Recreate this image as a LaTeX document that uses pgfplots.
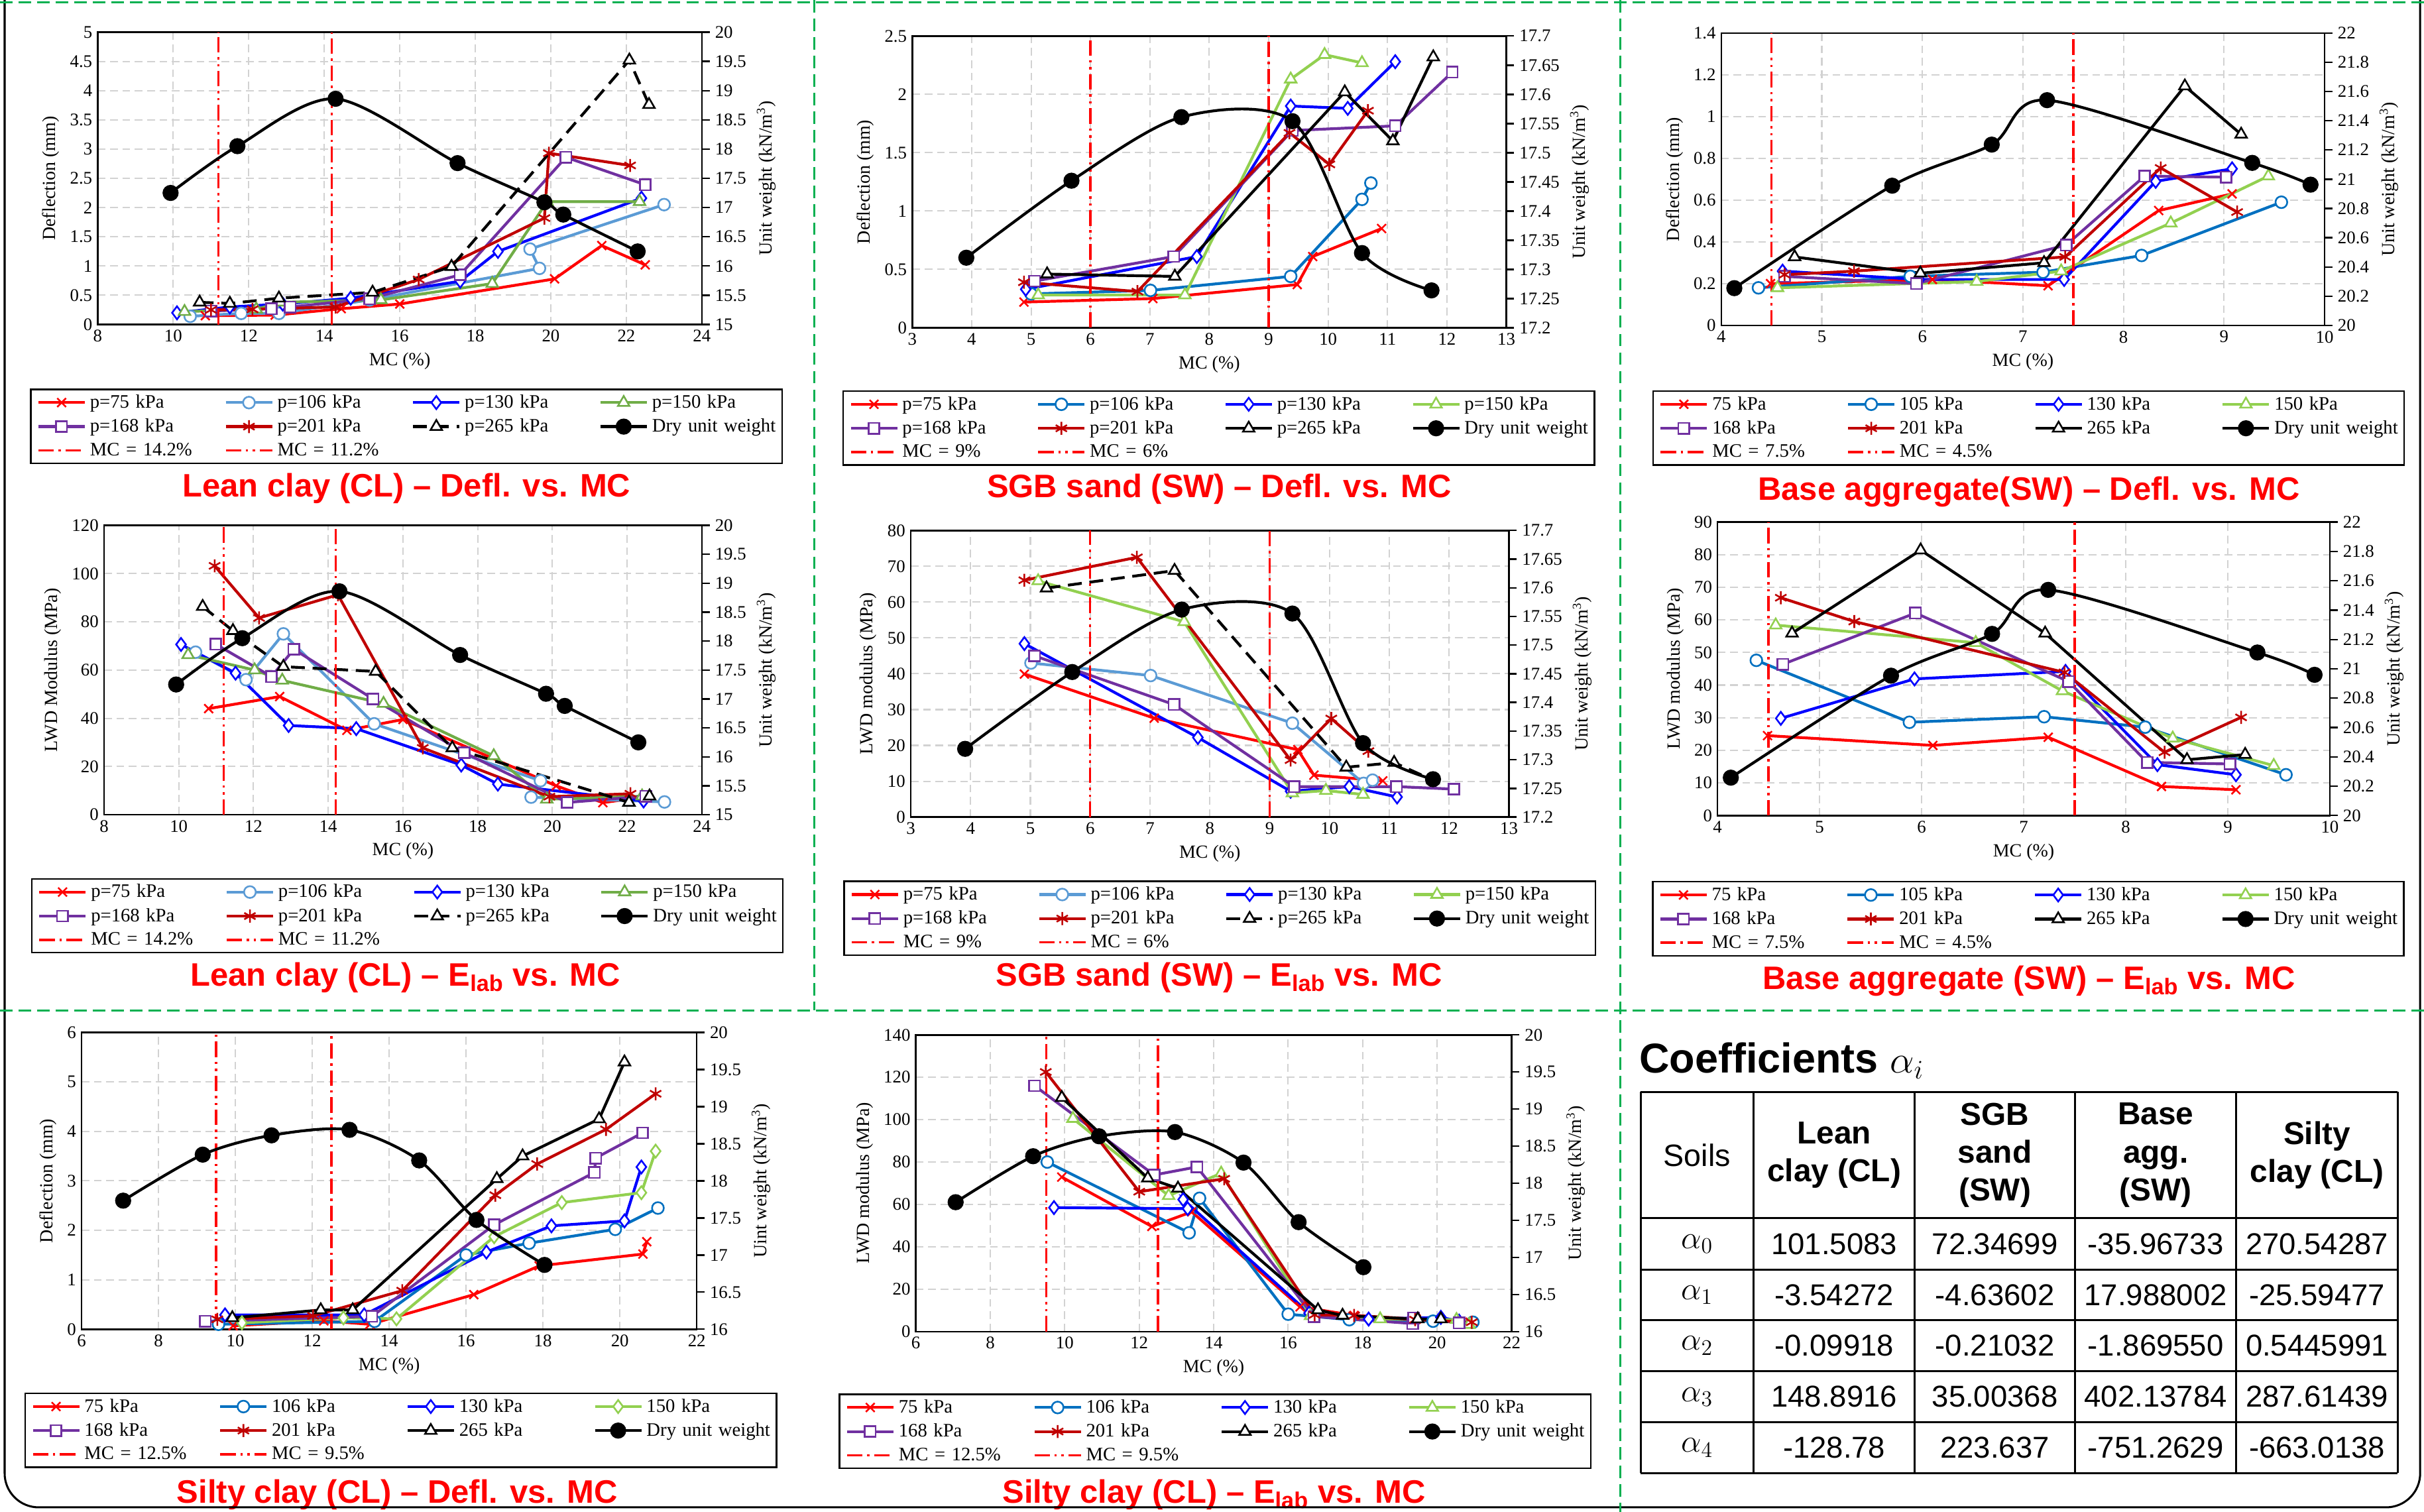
\documentclass[border=0pt]{standalone}
\usepackage{fontspec}
\setmainfont{Liberation Serif}
\newfontfamily\arial{Liberation Sans}
\usepackage{pgfplots}
\pgfplotsset{compat=1.18}
\definecolor{cRed}{RGB}{255,0,0}
\definecolor{cLB}{RGB}{91,155,213}
\definecolor{cMB}{RGB}{0,112,192}
\definecolor{cBlue}{RGB}{0,0,255}
\definecolor{cGreen}{RGB}{112,173,71}
\definecolor{cLG}{RGB}{146,208,80}
\definecolor{cPur}{RGB}{112,48,160}
\definecolor{cDR}{RGB}{192,0,0}
\definecolor{cGrn}{RGB}{0,176,80}
\definecolor{cGrid}{RGB}{210,210,210}
\tikzset{
 mo/.style={mark options={solid, fill=white, line width=1.1pt}},
 s75/.style={color=cRed, line width=1.8pt, mark=x, mark size=4pt, mark options={solid, line width=1.1pt}},
 s106/.style={color=#1, line width=1.8pt, mark=*, mark size=3.8pt, mo},
 s130/.style={color=cBlue, line width=1.8pt, mark=diamond*, mark size=4.2pt, mo},
 s150/.style={color=#1, line width=1.8pt, mark=triangle*, mark size=4.3pt, mo},
 s150d/.style={color=#1, line width=1.8pt, mark=diamond*, mark size=4.2pt, mo},
 s168/.style={color=cPur, line width=1.8pt, mark=square*, mark size=3.5pt, mo},
 s201/.style={color=cDR, line width=1.8pt, mark=asterisk, mark size=4.2pt, mark options={solid, line width=1.1pt}},
 s265/.style={color=black, line width=1.8pt, mark=triangle*, mark size=4.3pt, mo, #1},
 dsh/.style={dash pattern=on 9pt off 5pt},
 dry/.style={color=black, line width=1.8pt, smooth, mark=*, mark size=4.3pt, mark options={solid, fill=black}},
 mcA/.style={color=cRed, line width=1.5pt, dash pattern=on 10pt off 3pt on 1.5pt off 3pt},
 mcB/.style={color=cRed, line width=1.5pt, dash pattern=on 10pt off 3pt on 1.5pt off 3pt on 1.5pt off 3pt},
}
\pgfplotsset{
 legend image code/.code={\draw[mark repeat=2, mark phase=2, #1] plot coordinates {(0pt,0pt) (15pt,0pt) (30pt,0pt)};},
 common/.style={scale only axis, anchor=south west,
   axis line style={black, line width=1.1pt},
   tick label style={font=\fontsize{11.5}{13}\selectfont},
   label style={font=\fontsize{12}{14}\selectfont},
   /pgf/number format/assume math mode=true},
 Lax/.style={common,
   major tick length=0pt,
   xmajorgrids, ymajorgrids,
   major grid style={dash pattern=on 5pt off 3pt, draw=cGrid, line width=0.9pt},
   xlabel={MC (\%)},
   legend columns=4, legend cell align=left,
   legend style={anchor=north, draw=black, line width=1pt, fill=white,
      font=\fontsize{12.3}{14}\selectfont, inner xsep=4pt, inner ysep=3.5pt,
      nodes={inner sep=0pt},
      /tikz/every even column/.append style={column sep=6.9pt, text width=80pt},
      /tikz/every odd column/.append style={column sep=2.5pt},
      row sep=5.5pt}},
 Rax/.style={common,
   axis x line=none, axis y line*=right,
   tick align=outside, major tick length=5pt,
   ytick style={line width=1pt, black},
   ylabel={Unit weight (kN/m\textsuperscript{3})}},
}
\newcommand\ttl[3]{\node[font=\arial\bfseries\fontsize{21}{24}\selectfont, text=cRed] at (#1pt,#2pt) {#3};}
\begin{document}
\begin{tikzpicture}
\path[use as bounding box] (0,0) rectangle (1568pt,978pt);
% ================= P1 Lean clay Defl
\begin{axis}[Lax, at={(63.2pt,768.1pt)}, width=390.8pt, height=189.1pt,
  xmin=8, xmax=24, xtick={8,10,...,24}, ymin=0, ymax=5, ytick={0,0.5,...,5},
  ylabel={Deflection (mm)}, legend style={at={(0.511,-0.2195)}}]
\addplot[s75] coordinates {(10.85,0.15) (12.7,0.16) (14.45,0.27) (16.0,0.35) (20.1,0.78) (21.35,1.35) (22.5,1.02)}; \addlegendentry{p=75 kPa}
\addplot[s106=cLB] coordinates {(10.45,0.14) (11.8,0.19) (12.8,0.19) (15.2,0.42) (19.7,0.96) (19.45,1.29) (23.0,2.05)}; \addlegendentry{p=106 kPa}
\addplot[s130] coordinates {(10.1,0.2) (11.5,0.3) (12.9,0.35) (14.7,0.45) (17.6,0.74) (18.6,1.25) (22.4,2.16)}; \addlegendentry{p=130 kPa}
\addplot[s150=cGreen] coordinates {(10.3,0.22) (12.2,0.26) (12.85,0.38) (15.5,0.42) (18.45,0.7) (19.9,2.1) (22.35,2.1)}; \addlegendentry{p=150 kPa}
\addplot[s168] coordinates {(11.0,0.23) (12.6,0.27) (13.1,0.3) (15.2,0.44) (17.6,0.85) (20.4,2.86) (22.5,2.39)}; \addlegendentry{p=168 kPa}
\addplot[s201] coordinates {(11.0,0.25) (12.1,0.26) (14.3,0.3) (16.5,0.77) (19.83,1.82) (19.95,2.93) (22.1,2.72)}; \addlegendentry{p=201 kPa}
\addplot[s265=dsh] coordinates {(10.7,0.38) (11.5,0.36) (12.8,0.45) (15.28,0.55) (17.37,0.99) (22.08,4.52) (22.6,3.76)}; \addlegendentry{p=265 kPa}
\addlegendimage{dry}\addlegendentry{Dry unit weight}
\addplot[mcA] coordinates {(14.2,0) (14.2,5)}; \addlegendentry{MC = 14.2\%}
\addplot[mcB] coordinates {(11.2,0) (11.2,5)}; \addlegendentry{MC = 11.2\%}
\end{axis}
\begin{axis}[Rax, at={(63.2pt,768.1pt)}, width=390.8pt, height=189.1pt,
  xmin=8, xmax=24, ymin=15, ymax=20, ytick={15,15.5,...,20}]
\addplot[dry] coordinates {(9.93,17.25) (11.7,18.05) (14.3,18.86) (17.53,17.76) (19.83,17.09) (20.33,16.88) (22.3,16.25)};
\end{axis}
\ttl{263}{662.1}{Lean clay (CL) \textendash{} Defl. vs. MC}
% ================= P2 SGB Defl
\begin{axis}[Lax, at={(590.1pt,766pt)}, width=384.3pt, height=188.7pt,
  xmin=3, xmax=13, xtick={3,4,...,13}, ymin=0, ymax=2.5, ytick={0,0.5,...,2.5},
  ylabel={Deflection (mm)}, legend style={at={(0.516,-0.2146)}}]
\addplot[s75] coordinates {(4.88,0.22) (7.05,0.25) (9.48,0.37) (9.74,0.61) (10.9,0.85)}; \addlegendentry{p=75 kPa}
\addplot[s106=cMB] coordinates {(5.0,0.29) (7.01,0.32) (9.37,0.44) (10.57,1.1) (10.72,1.24)}; \addlegendentry{p=106 kPa}
\addplot[s130] coordinates {(4.91,0.33) (7.79,0.61) (9.37,1.9) (10.33,1.88) (11.13,2.28)}; \addlegendentry{p=130 kPa}
\addplot[s150=cLG] coordinates {(5.12,0.28) (7.59,0.28) (9.37,2.13) (9.94,2.34) (10.57,2.27)}; \addlegendentry{p=150 kPa}
\addplot[s168] coordinates {(5.06,0.4) (7.4,0.61) (9.4,1.69) (11.13,1.73) (12.09,2.19)}; \addlegendentry{p=168 kPa}
\addplot[s201] coordinates {(4.88,0.39) (6.79,0.31) (9.35,1.67) (10.02,1.4) (10.67,1.86)}; \addlegendentry{p=201 kPa}
\addplot[s265=solid] coordinates {(5.27,0.46) (7.42,0.44) (10.28,2.02) (11.09,1.6) (11.77,2.32)}; \addlegendentry{p=265 kPa}
\addlegendimage{dry}\addlegendentry{Dry unit weight}
\addplot[mcA] coordinates {(9,0) (9,2.5)}; \addlegendentry{MC = 9\%}
\addplot[mcB] coordinates {(6,0) (6,2.5)}; \addlegendentry{MC = 6\%}
\end{axis}
\begin{axis}[Rax, at={(590.1pt,766pt)}, width=384.3pt, height=188.7pt,
  xmin=3, xmax=13, ymin=17.2, ymax=17.7, ytick={17.2,17.25,17.3,17.35,17.4,17.45,17.5,17.55,17.6,17.65,17.7}]
\addplot[dry] coordinates {(3.91,17.32) (5.68,17.452) (7.53,17.561) (9.4,17.554) (10.57,17.328) (11.74,17.264)};
\end{axis}
\ttl{788.6}{661.7}{SGB sand (SW) \textendash{} Defl. vs. MC}
% ================= P3 Base Defl
\begin{axis}[Lax, at={(1113.4pt,767.5pt)}, width=390.3pt, height=189.1pt,
  xmin=4, xmax=10, xtick={4,5,...,10}, ymin=0, ymax=1.4, ytick={0,0.2,0.4,0.6,0.8,1,1.2,1.4},
  ylabel={Deflection (mm)}, legend style={at={(0.5095,-0.222)}}]
\addplot[s75] coordinates {(4.49,0.2) (6.1,0.22) (7.25,0.19) (8.35,0.55) (9.08,0.63)}; \addlegendentry{75 kPa}
\addplot[s106=cMB] coordinates {(4.37,0.18) (5.88,0.235) (7.2,0.255) (8.18,0.335) (9.57,0.59)}; \addlegendentry{105 kPa}
\addplot[s130] coordinates {(4.61,0.26) (5.97,0.22) (7.41,0.22) (8.32,0.69) (9.08,0.75)}; \addlegendentry{130 kPa}
\addplot[s150=cLG] coordinates {(4.56,0.18) (6.54,0.21) (7.38,0.26) (8.47,0.49) (9.44,0.715)}; \addlegendentry{150 kPa}
\addplot[s168] coordinates {(4.63,0.235) (5.94,0.2) (7.43,0.385) (8.21,0.715) (9.02,0.71)}; \addlegendentry{168 kPa}
\addplot[s201] coordinates {(4.63,0.243) (5.32,0.26) (7.42,0.328) (8.37,0.754) (9.13,0.543)}; \addlegendentry{201 kPa}
\addplot[s265=solid] coordinates {(4.73,0.328) (5.98,0.25) (7.21,0.3) (8.61,1.146) (9.17,0.915)}; \addlegendentry{265 kPa}
\addlegendimage{dry}\addlegendentry{Dry unit weight}
\addplot[mcA] coordinates {(7.5,0) (7.5,1.4)}; \addlegendentry{MC = 7.5\%}
\addplot[mcB] coordinates {(4.5,0) (4.5,1.4)}; \addlegendentry{MC = 4.5\%}
\end{axis}
\begin{axis}[Rax, at={(1113.4pt,767.5pt)}, width=390.3pt, height=189.1pt,
  xmin=4, xmax=10, ymin=20, ymax=22, ytick={20,20.2,20.4,20.6,20.8,21,21.2,21.4,21.6,21.8,22}]
\addplot[dry] coordinates {(4.13,20.255) (5.7,20.956) (6.69,21.237) (7.24,21.541) (9.28,21.112) (9.86,20.963)};
\end{axis}
\ttl{1312.4}{660}{Base aggregate(SW) \textendash{} Defl. vs. MC}
% ================= P4 Lean clay E
\begin{axis}[Lax, at={(67.3pt,451pt)}, width=386.7pt, height=187.2pt,
  xmin=8, xmax=24, xtick={8,10,...,24}, ymin=0, ymax=120, ytick={0,20,...,120},
  ylabel={LWD Modulus (MPa)}, legend style={at={(0.5074,-0.219)}}]
\addplot[s75] coordinates {(10.8,44) (12.7,49) (14.5,35) (16.0,39.5) (20.1,12) (21.35,5) (22.5,7.5)}; \addlegendentry{p=75 kPa}
\addplot[s106=cLB] coordinates {(10.45,67.4) (11.8,56) (12.8,75) (15.23,37.7) (19.68,14.1) (19.43,7.3) (23.0,5.3)}; \addlegendentry{p=106 kPa}
\addplot[s130] coordinates {(10.06,70.6) (11.52,58.7) (12.94,37) (14.75,35.7) (17.56,20.6) (18.54,12.7) (22.44,5.7)}; \addlegendentry{p=130 kPa}
\addplot[s150=cGreen] coordinates {(10.25,66.3) (12.03,60) (12.77,55.7) (15.48,46.1) (18.43,24.4) (19.85,6.4) (22.4,7.7)}; \addlegendentry{p=150 kPa}
\addplot[s168] coordinates {(10.99,70.7) (12.48,57.3) (13.08,68.6) (15.2,48) (17.64,25.7) (20.4,5.1) (22.5,7.7)}; \addlegendentry{p=168 kPa}
\addplot[s201] coordinates {(10.96,103.2) (12.15,81.6) (14.26,91.2) (16.53,27.7) (19.92,7.5) (22.09,8.7)}; \addlegendentry{p=201 kPa}
\addplot[s265=dsh] coordinates {(10.64,86.3) (11.45,76.3) (12.8,61.4) (15.27,59.4) (17.32,27.7) (22.05,5.1) (22.6,7.7)}; \addlegendentry{p=265 kPa}
\addlegendimage{dry}\addlegendentry{Dry unit weight}
\addplot[mcA] coordinates {(14.2,0) (14.2,120)}; \addlegendentry{MC = 14.2\%}
\addplot[mcB] coordinates {(11.2,0) (11.2,120)}; \addlegendentry{MC = 11.2\%}
\end{axis}
\begin{axis}[Rax, at={(67.3pt,451pt)}, width=386.7pt, height=187.2pt,
  xmin=8, xmax=24, ymin=15, ymax=20, ytick={15,15.5,...,20}]
\addplot[dry] coordinates {(9.93,17.25) (11.7,18.05) (14.3,18.86) (17.53,17.76) (19.83,17.09) (20.33,16.88) (22.3,16.25)};
\end{axis}
\ttl{262.3}{345.6}{Lean clay (CL) \textendash{} E\textsubscript{lab} vs. MC}
% ================= P5 SGB E
\begin{axis}[Lax, at={(589.1pt,449.5pt)}, width=387pt, height=185.4pt,
  xmin=3, xmax=13, xtick={3,4,...,13}, ymin=0, ymax=80, ytick={0,10,...,80},
  ylabel={LWD modulus (MPa)}, legend style={at={(0.5165,-0.2217)}}]
\addplot[s75] coordinates {(4.9,39.9) (7.07,27.6) (9.47,18.8) (9.74,11.7) (10.89,10.1)}; \addlegendentry{p=75 kPa}
\addplot[s106=cLB] coordinates {(5.01,43) (7.01,39.5) (9.38,26.2) (10.57,9.4) (10.72,10.3)}; \addlegendentry{p=106 kPa}
\addplot[s130] coordinates {(4.9,48.4) (7.8,22.2) (9.35,7.2) (10.33,8.5) (11.13,5.6)}; \addlegendentry{p=130 kPa}
\addplot[s150=cLG] coordinates {(5.13,65.9) (7.57,54.5) (9.38,6.7) (9.94,7.4) (10.56,6.3)}; \addlegendentry{p=150 kPa}
\addplot[s168] coordinates {(5.07,45) (7.4,31.4) (9.41,8.5) (11.12,8.5) (12.08,7.8)}; \addlegendentry{p=168 kPa}
\addplot[s201] coordinates {(4.9,66.1) (6.78,72.5) (9.35,15.9) (10.03,27.5) (10.65,18.4)}; \addlegendentry{p=201 kPa}
\addplot[s265=dsh] coordinates {(5.27,63.9) (7.41,68.8) (10.28,13.9) (11.08,15.2) (11.73,10.3)}; \addlegendentry{p=265 kPa}
\addlegendimage{dry}\addlegendentry{Dry unit weight}
\addplot[mcA] coordinates {(9,0) (9,80)}; \addlegendentry{MC = 9\%}
\addplot[mcB] coordinates {(6,0) (6,80)}; \addlegendentry{MC = 6\%}
\end{axis}
\begin{axis}[Rax, at={(589.1pt,449.5pt)}, width=387pt, height=185.4pt,
  xmin=3, xmax=13, ymin=17.2, ymax=17.7, ytick={17.2,17.25,17.3,17.35,17.4,17.45,17.5,17.55,17.6,17.65,17.7}]
\addplot[dry] coordinates {(3.91,17.319) (5.7,17.453) (7.53,17.562) (9.38,17.555) (10.56,17.329) (11.73,17.266)};
\end{axis}
\ttl{788.6}{345.6}{SGB sand (SW) \textendash{} E\textsubscript{lab} vs. MC}
% ================= P6 Base E
\begin{axis}[Lax, at={(1111pt,450.5pt)}, width=396.1pt, height=189.8pt,
  xmin=4, xmax=10, xtick={4,5,...,10}, ymin=0, ymax=90, ytick={0,10,...,90},
  ylabel={LWD modulus (MPa)}, legend style={at={(0.5075,-0.2234)}}]
\addplot[s75] coordinates {(4.49,24.5) (6.11,21.5) (7.24,24) (8.35,8.9) (9.08,7.9)}; \addlegendentry{75 kPa}
\addplot[s106=cMB] coordinates {(4.38,47.6) (5.88,28.6) (7.2,30.3) (8.19,27.1) (9.57,12.5)}; \addlegendentry{105 kPa}
\addplot[s130] coordinates {(4.62,29.8) (5.93,41.9) (7.41,44.2) (8.31,15.6) (9.08,12.5)}; \addlegendentry{130 kPa}
\addplot[s150=cLG] coordinates {(4.57,58.4) (6.53,53) (7.38,38.2) (8.46,23.7) (9.45,15.3)}; \addlegendentry{150 kPa}
\addplot[s168] coordinates {(4.64,46.4) (5.94,62.1) (7.44,41.1) (8.21,16.3) (9.02,15.8)}; \addlegendentry{168 kPa}
\addplot[s201] coordinates {(4.62,66.8) (5.34,59.5) (7.4,43.9) (8.38,19.4) (9.13,30.1)}; \addlegendentry{201 kPa}
\addplot[s265=solid] coordinates {(4.73,55.9) (5.99,81.4) (7.21,55.9) (8.6,17.1) (9.17,18.7)}; \addlegendentry{265 kPa}
\addlegendimage{dry}\addlegendentry{Dry unit weight}
\addplot[mcA] coordinates {(7.5,0) (7.5,90)}; \addlegendentry{MC = 7.5\%}
\addplot[mcB] coordinates {(4.5,0) (4.5,90)}; \addlegendentry{MC = 4.5\%}
\end{axis}
\begin{axis}[Rax, at={(1111pt,450.5pt)}, width=396.1pt, height=189.8pt,
  xmin=4, xmax=10, ymin=20, ymax=22, ytick={20,20.2,20.4,20.6,20.8,21,21.2,21.4,21.6,21.8,22}]
\addplot[dry] coordinates {(4.13,20.258) (5.7,20.953) (6.69,21.238) (7.24,21.538) (9.29,21.111) (9.85,20.959)};
\end{axis}
\ttl{1312.4}{343.5}{Base aggregate (SW) \textendash{} E\textsubscript{lab} vs. MC}
% ================= P7 Silty Defl
\begin{axis}[Lax, at={(52.8pt,118.2pt)}, width=397.9pt, height=192pt,
  xmin=6, xmax=22, xtick={6,8,...,22}, ymin=0, ymax=6, ytick={0,1,...,6},
  ylabel={Deflection (mm)}, legend style={at={(0.519,-0.2135)}}]
\addplot[s75] coordinates {(9.94,0.07) (12.3,0.17) (13.5,0.1) (16.2,0.7) (17.9,1.28) (20.6,1.52) (20.7,1.77)}; \addlegendentry{75 kPa}
\addplot[s106=cMB] coordinates {(9.56,0.1) (13.62,0.16) (16.0,1.5) (17.64,1.74) (19.88,2.02) (20.99,2.45)}; \addlegendentry{106 kPa}
\addplot[s130] coordinates {(9.73,0.29) (13.35,0.29) (16.53,1.56) (18.22,2.09) (20.12,2.19) (20.56,3.28)}; \addlegendentry{130 kPa}
\addplot[s150d=cLG] coordinates {(10.17,0.13) (12.81,0.23) (14.19,0.21) (16.73,1.87) (18.49,2.56) (20.56,2.76) (20.93,3.6)}; \addlegendentry{150 kPa}
\addplot[s168] coordinates {(9.22,0.16) (13.55,0.26) (16.73,2.11) (19.34,3.17) (19.37,3.46) (20.59,3.97)}; \addlegendentry{168 kPa}
\addplot[s201] coordinates {(9.53,0.2) (12.02,0.27) (14.34,0.78) (16.76,2.71) (17.85,3.34) (19.64,4.04) (20.93,4.76)}; \addlegendentry{201 kPa}
\addplot[s265=solid] coordinates {(9.92,0.23) (12.22,0.39) (13.05,0.39) (16.8,3.04) (17.47,3.5) (19.46,4.25) (20.12,5.4)}; \addlegendentry{265 kPa}
\addlegendimage{dry}\addlegendentry{Dry unit weight}
\addplot[mcA] coordinates {(12.5,0) (12.5,6)}; \addlegendentry{MC = 12.5\%}
\addplot[mcB] coordinates {(9.5,0) (9.5,6)}; \addlegendentry{MC = 9.5\%}
\end{axis}
\begin{axis}[Rax, at={(52.8pt,118.2pt)}, width=397.9pt, height=192pt,
  xmin=6, xmax=22, ymin=16, ymax=20, ytick={16,16.5,...,20}, ylabel={Uint weight (kN/m\textsuperscript{3})}]
\addplot[dry] coordinates {(7.08,17.733) (9.15,18.353) (10.94,18.613) (12.97,18.687) (14.78,18.275) (16.27,17.473) (18.04,16.867)};
\end{axis}
\ttl{257}{11.1}{Silty clay (CL) \textendash{} Defl. vs. MC}
% ================= P8 Silty E
\begin{axis}[Lax, at={(592.4pt,116.7pt)}, width=385.4pt, height=191.9pt,
  xmin=6, xmax=22, xtick={6,8,...,22}, ymin=0, ymax=140, ytick={0,20,...,140},
  ylabel={LWD modulus (MPa)}, legend style={at={(0.5023,-0.209)}}]
\addplot[s75] coordinates {(9.92,72.9) (12.34,49.6) (13.41,56.5) (16.32,11.7) (17.77,7.6) (19.44,5.9) (20.89,4.4)}; \addlegendentry{75 kPa}
\addplot[s106=cMB] coordinates {(9.53,80) (13.34,46.6) (13.62,62.9) (16.0,8.2) (17.64,5.6) (19.89,4.9) (20.96,4.4)}; \addlegendentry{106 kPa}
\addplot[s130] coordinates {(9.71,58.5) (13.3,58) (13.18,62.3) (16.56,8.7) (18.16,5.9) (20.1,6.7) (20.59,4.9)}; \addlegendentry{130 kPa}
\addplot[s150=cLG] coordinates {(10.22,100.5) (12.79,64.1) (14.2,74.7) (16.6,7.4) (18.47,5.9) (20.52,5.6) (20.86,3.3)}; \addlegendentry{150 kPa}
\addplot[s168] coordinates {(9.19,116) (12.4,73.9) (13.55,77.7) (16.69,7.1) (19.34,3.8) (19.37,6.4) (20.59,4.1)}; \addlegendentry{168 kPa}
\addplot[s201] coordinates {(9.49,122.5) (12.0,66) (14.28,72.1) (16.71,7.9) (17.77,7.6) (19.41,5.6) (20.93,4.4)}; \addlegendentry{201 kPa}
\addplot[s265=solid] coordinates {(9.92,110.4) (12.23,72.4) (13.04,67.6) (16.8,10.2) (17.46,7.6) (19.48,5.9) (20.1,5.9)}; \addlegendentry{265 kPa}
\addlegendimage{dry}\addlegendentry{Dry unit weight}
\addplot[mcA] coordinates {(12.5,0) (12.5,140)}; \addlegendentry{MC = 12.5\%}
\addplot[mcB] coordinates {(9.5,0) (9.5,140)}; \addlegendentry{MC = 9.5\%}
\end{axis}
\begin{axis}[Rax, at={(592.4pt,116.7pt)}, width=385.4pt, height=191.9pt,
  xmin=6, xmax=22, ymin=16, ymax=20, ytick={16,16.5,...,20}]
\addplot[dry] coordinates {(7.07,17.744) (9.15,18.364) (10.92,18.633) (12.96,18.69) (14.8,18.278) (16.28,17.475) (18.02,16.868)};
\end{axis}
\ttl{785.3}{11.1}{Silty clay (CL) \textendash{} E\textsubscript{lab} vs. MC}
% ================= Table
\node[anchor=west, font=\arial\bfseries\fontsize{27}{30}\selectfont] at (1057pt,292pt) {Coefficients $\alpha_i$};
\begin{scope}[line width=1.3pt, black]
\foreach \y in {271.7,190,156.7,124,91.1,57.9,25.1} \draw (1061.2pt,\y pt) -- (1551pt,\y pt);
\foreach \x in {1061.2,1134.4,1238.5,1342.3,1446.5,1551} \draw (\x pt,25.1pt) -- (\x pt,271.7pt);
\end{scope}
\begin{scope}[every node/.style={align=center, font=\arial\fontsize{19.5}{24.5}\selectfont}]
\node at (1097.8pt,230.85pt) {\fontsize{20}{24}\selectfont Soils};
\node[font=\arial\bfseries\fontsize{20.5}{24.5}\selectfont] at (1186.45pt,230.85pt) {Lean\\clay (CL)};
\node[font=\arial\bfseries\fontsize{20.5}{24.5}\selectfont] at (1290.4pt,230.85pt) {SGB\\sand\\(SW)};
\node[font=\arial\bfseries\fontsize{20.5}{24.5}\selectfont] at (1394.4pt,230.85pt) {Base\\agg.\\(SW)};
\node[font=\arial\bfseries\fontsize{20.5}{24.5}\selectfont] at (1498.75pt,230.85pt) {Silty\\clay (CL)};
\node[font=\fontsize{20}{24}\selectfont] at (1097.8pt,173.35pt) {$\alpha_0$};
\node[font=\fontsize{20}{24}\selectfont] at (1097.8pt,140.35pt) {$\alpha_1$};
\node[font=\fontsize{20}{24}\selectfont] at (1097.8pt,107.55pt) {$\alpha_2$};
\node[font=\fontsize{20}{24}\selectfont] at (1097.8pt,74.5pt) {$\alpha_3$};
\node[font=\fontsize{20}{24}\selectfont] at (1097.8pt,41.5pt) {$\alpha_4$};
\node at (1186.45pt,173.35pt) {101.5083};
\node at (1290.4pt,173.35pt) {72.34699};
\node at (1394.4pt,173.35pt) {-35.96733};
\node at (1498.75pt,173.35pt) {270.54287};
\node at (1186.45pt,140.35pt) {-3.54272};
\node at (1290.4pt,140.35pt) {-4.63602};
\node at (1394.4pt,140.35pt) {17.988002};
\node at (1498.75pt,140.35pt) {-25.59477};
\node at (1186.45pt,107.55pt) {-0.09918};
\node at (1290.4pt,107.55pt) {-0.21032};
\node at (1394.4pt,107.55pt) {-1.869550};
\node at (1498.75pt,107.55pt) {0.5445991};
\node at (1186.45pt,74.5pt) {148.8916};
\node at (1290.4pt,74.5pt) {35.00368};
\node at (1394.4pt,74.5pt) {402.13784};
\node at (1498.75pt,74.5pt) {287.61439};
\node at (1186.45pt,41.5pt) {-128.78};
\node at (1290.4pt,41.5pt) {223.637};
\node at (1394.4pt,41.5pt) {-751.2629};
\node at (1498.75pt,41.5pt) {-663.0138};
\end{scope}
% ================= Frame
\draw[black, line width=1.3pt, rounded corners=22pt] (3pt,978pt) -- (3pt,3pt) -- (1565.5pt,3pt) -- (1565.5pt,978pt);
\begin{scope}[cGrn, line width=1.4pt, dash pattern=on 8pt off 4pt]
\draw (0pt,976.5pt) -- (1568pt,976.5pt);
\draw (526.8pt,978pt) -- (526.8pt,324.5pt);
\draw (0pt,324.5pt) -- (1568pt,324.5pt);
\draw (1048pt,978pt) -- (1048pt,0pt);
\end{scope}
\end{tikzpicture}
\end{document}
